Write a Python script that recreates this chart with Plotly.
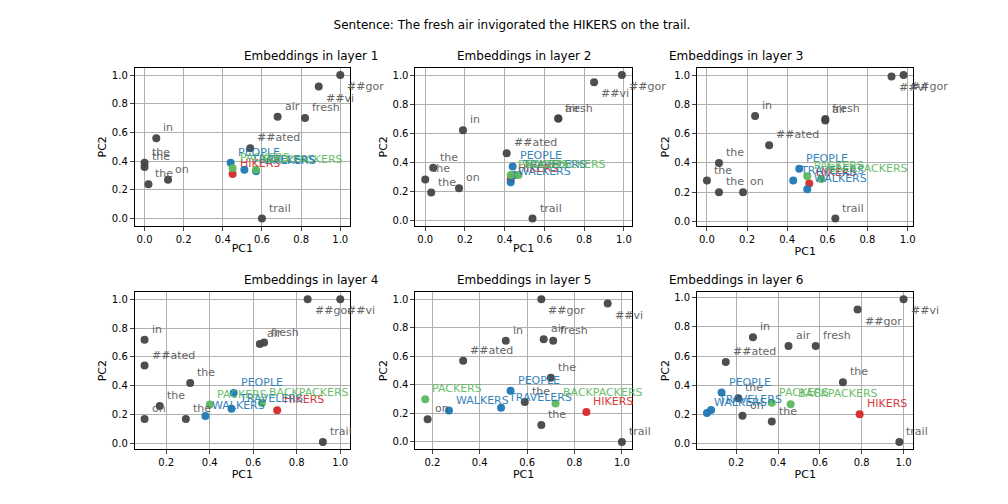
import plotly.graph_objects as go

# tokens of the sentence, then the extra words
words = ["the", "fresh", "air", "in", "##vi", "##gor", "##ated", "the", "on", "the", "trail",
         "HIKERS", "PEOPLE", "WALKERS", "TRAVELERS", "PACKERS", "BACKPACKERS"]
kinds = ["tok"] * 11 + ["target", "blue", "blue", "blue", "green", "green"]

layer1_x = [0.00, 0.82, 0.68, 0.06, 0.89, 1.00, 0.54, 0.00, 0.12, 0.02, 0.60, 0.45, 0.44, 0.57, 0.51, 0.45, 0.57]
layer1_y = [0.39, 0.70, 0.71, 0.56, 0.92, 1.00, 0.49, 0.36, 0.27, 0.24, 0.00, 0.31, 0.39, 0.33, 0.34, 0.35, 0.34]
layer2_x = [0.04, 0.67, 0.67, 0.19, 0.85, 0.99, 0.41, 0.00, 0.17, 0.03, 0.54, 0.43, 0.44, 0.43, 0.45, 0.43, 0.47]
layer2_y = [0.36, 0.70, 0.70, 0.62, 0.95, 1.00, 0.46, 0.28, 0.22, 0.19, 0.01, 0.28, 0.37, 0.26, 0.31, 0.31, 0.31]
layer3_x = [0.06, 0.59, 0.59, 0.24, 0.92, 0.98, 0.31, 0.00, 0.18, 0.06, 0.64, 0.51, 0.46, 0.50, 0.43, 0.50, 0.57]
layer3_y = [0.40, 0.70, 0.69, 0.72, 0.99, 1.00, 0.52, 0.28, 0.20, 0.20, 0.02, 0.26, 0.36, 0.22, 0.28, 0.31, 0.29]
layer4_x = [0.31, 0.65, 0.63, 0.10, 1.00, 0.85, 0.10, 0.17, 0.10, 0.29, 0.92, 0.71, 0.51, 0.38, 0.50, 0.40, 0.64]
layer4_y = [0.42, 0.70, 0.69, 0.72, 1.00, 1.00, 0.54, 0.26, 0.17, 0.17, 0.01, 0.23, 0.35, 0.19, 0.24, 0.27, 0.28]
layer5_x = [0.70, 0.71, 0.67, 0.51, 0.94, 0.66, 0.33, 0.59, 0.18, 0.66, 1.00, 0.85, 0.53, 0.27, 0.49, 0.17, 0.72]
layer5_y = [0.45, 0.71, 0.72, 0.71, 0.97, 1.00, 0.57, 0.28, 0.16, 0.12, 0.00, 0.21, 0.36, 0.22, 0.24, 0.30, 0.27]
layer6_x = [0.71, 0.58, 0.45, 0.28, 1.00, 0.78, 0.15, 0.21, 0.23, 0.37, 0.98, 0.79, 0.13, 0.06, 0.08, 0.37, 0.46]
layer6_y = [0.42, 0.67, 0.67, 0.73, 0.99, 0.92, 0.56, 0.31, 0.19, 0.15, 0.01, 0.20, 0.35, 0.21, 0.23, 0.28, 0.27]

layers = [(layer1_x, layer1_y), (layer2_x, layer2_y), (layer3_x, layer3_y),
          (layer4_x, layer4_y), (layer5_x, layer5_y), (layer6_x, layer6_y)]

marker_col = {"tok": "#444444", "target": "#d62728", "blue": "#1f77b4", "green": "#5cb85c"}
text_col = {"tok": "#555555", "target": "#d62728", "blue": "#1f77b4", "green": "#5cb85c"}

xdoms = [(0.126, 0.340), (0.405, 0.620), (0.685, 0.900)]
ydoms = [(0.567, 0.881), (0.123, 0.435)]

fig = go.Figure()
annotations = []
layout = {}
for i, (xs, ys) in enumerate(layers):
    n = i + 1
    r, c = divmod(i, 3)
    xa = "x" if n == 1 else f"x{n}"
    ya = "y" if n == 1 else f"y{n}"
    fig.add_trace(go.Scatter(
        x=xs, y=ys, mode="markers", xaxis=xa, yaxis=ya, showlegend=False,
        marker=dict(size=8, color=[marker_col[k] for k in kinds], opacity=0.95),
        hovertext=words))
    for w, k, px_, py_ in zip(words, kinds, xs, ys):
        below = w in ("##vi", "##gor")
        annotations.append(dict(
            x=px_, y=py_, xref=xa, yref=ya, text=w, showarrow=False,
            xanchor="left", yanchor="top" if below else "bottom",
            xshift=5, yshift=-3 if below else 2,
            font=dict(size=11, color=text_col[k]), opacity=0.9))
    xspan = max(xs) - min(xs)
    yspan = max(ys) - min(ys)
    ax = dict(domain=list(xdoms[c]), anchor=ya,
              range=[min(xs) - 0.05 * xspan, max(xs) + 0.05 * xspan],
              dtick=0.2, tick0=0, tickformat=".1f", showgrid=True, gridcolor="#b0b0b0",
              zeroline=False, showline=True, mirror=True, linecolor="black",
              ticks="outside", ticklen=4, tickfont=dict(size=10, color="black"),
              title=dict(text="PC1", font=dict(size=11), standoff=0))
    ay = dict(domain=list(ydoms[r]), anchor=xa,
              range=[min(ys) - 0.05 * yspan, max(ys) + 0.05 * yspan],
              dtick=0.2, tick0=0, tickformat=".1f", showgrid=True, gridcolor="#b0b0b0",
              zeroline=False, showline=True, mirror=True, linecolor="black",
              ticks="outside", ticklen=4, tickfont=dict(size=10, color="black"),
              title=dict(text="PC2", font=dict(size=11), standoff=2))
    layout["xaxis" if n == 1 else f"xaxis{n}"] = ax
    layout["yaxis" if n == 1 else f"yaxis{n}"] = ay
    annotations.append(dict(
        x=sum(xdoms[c]) / 2, y=ydoms[r][1], xref="paper", yref="paper",
        text=f"Embeddings in layer {n}", showarrow=False, yanchor="bottom", yshift=3,
        font=dict(size=12, color="black")))

fig.update_layout(
    **layout,
    annotations=annotations,
    title=dict(text="Sentence: The fresh air invigorated the HIKERS on the trail.",
               x=0.5, y=0.975, xanchor="center", yanchor="top",
               font=dict(size=12, color="black")),
    width=1008, height=504, margin=dict(l=0, r=0, t=0, b=0),
    paper_bgcolor="white", plot_bgcolor="white",
    font=dict(family="DejaVu Sans", color="black"),
)

fig.write_html("out.html")
